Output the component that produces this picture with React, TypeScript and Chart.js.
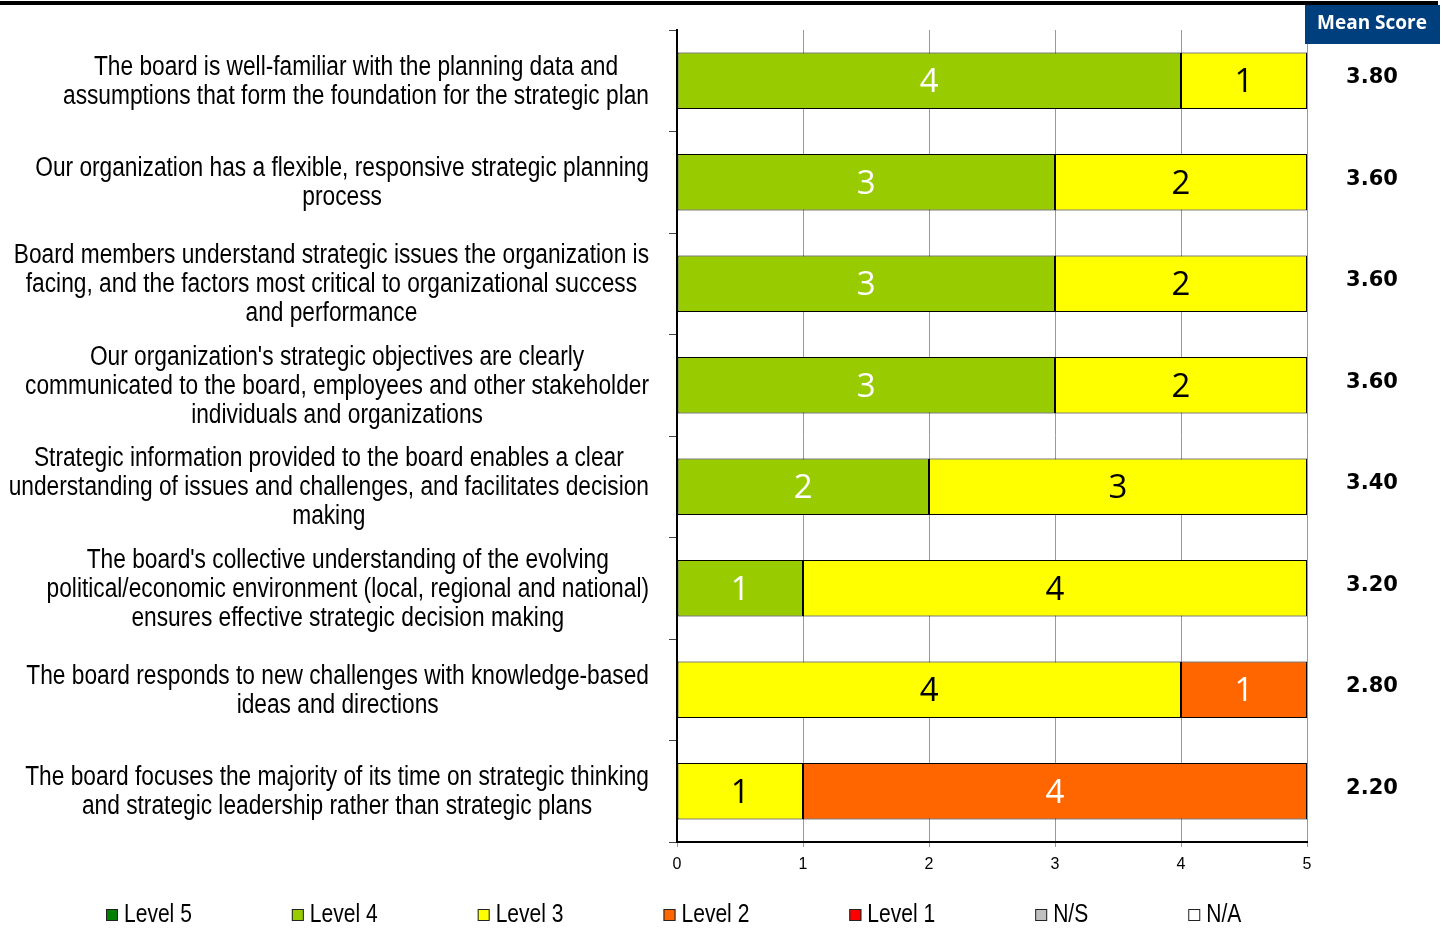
import { useEffect, useRef } from "react";
import { Chart, registerables } from "chart.js";

Chart.register(...registerables);

// ---------- DATA ----------
const categories: string[][] = [
  ["The board is well-familiar with the planning data and", "assumptions that form the foundation for the strategic plan"],
  ["Our organization has a flexible, responsive strategic planning", "process"],
  ["Board members understand strategic issues the organization is", "facing, and the factors most critical to organizational success", "and performance"],
  ["Our organization's strategic objectives are clearly", "communicated to the board, employees and other stakeholder", "individuals and organizations"],
  ["Strategic information provided to the board enables a clear", "understanding of issues and challenges, and facilitates decision", "making"],
  ["The board's collective understanding of the evolving", "political/economic environment (local, regional and national)", "ensures effective strategic decision making"],
  ["The board responds to new challenges with knowledge-based", "ideas and directions"],
  ["The board focuses the majority of its time on strategic thinking", "and strategic leadership rather than strategic plans"],
];

const seriesNames = ["Level 5", "Level 4", "Level 3", "Level 2", "Level 1", "N/S", "N/A"];
const level5 = [0, 0, 0, 0, 0, 0, 0, 0];
const level4 = [4, 3, 3, 3, 2, 1, 0, 0];
const level3 = [1, 2, 2, 2, 3, 4, 4, 1];
const level2 = [0, 0, 0, 0, 0, 0, 1, 4];
const level1 = [0, 0, 0, 0, 0, 0, 0, 0];
const levelNS = [0, 0, 0, 0, 0, 0, 0, 0];
const levelNA = [0, 0, 0, 0, 0, 0, 0, 0];
const meanScores = [3.8, 3.6, 3.6, 3.6, 3.4, 3.2, 2.8, 2.2];
const xTickValues = [0, 1, 2, 3, 4, 5];
const meanHeader = "Mean Score";

// ---------- STYLES ----------
const seriesColors = ["#008000", "#99CC00", "#FFFF00", "#FF6600", "#FF0000", "#C0C0C0", "#FFFFFF"];
const valueLabelColors = ["#FFFFFF", "#FFFFFF", "#000000", "#FFFFFF", "#FFFFFF", "#000000", "#000000"];
const SANS = '"Liberation Sans", Arial, sans-serif';
const LABEL_FONT = `27px ${SANS}`;
const LEGEND_FONT = `25px ${SANS}`;
const VALUE_FONT = `33px "Open Sans", "DejaVu Sans", sans-serif`;
const MEAN_FONT = `bold 21px "DejaVu Sans", sans-serif`;
const HEADER_FONT = `bold 19px "Open Sans", "DejaVu Sans", sans-serif`;
const NARROW_REF_LINE = "assumptions that form the foundation for the strategic plan";
const NARROW_REF_WIDTH = 586;

const W = 1442;
const H = 930;

function narrowText(ctx: CanvasRenderingContext2D, text: string, x: number, y: number, sx: number) {
  ctx.save();
  ctx.translate(x, y);
  ctx.scale(sx, 1);
  ctx.fillText(text, 0, 0);
  ctx.restore();
}

const decorPlugin = {
  id: "decor",
  afterDraw(chart: any) {
    const ctx = chart.ctx as CanvasRenderingContext2D;
    const yScale = chart.scales.y;
    ctx.save();

    // top rule
    ctx.fillStyle = "#000000";
    ctx.fillRect(0, 1, 1438, 4);

    // category labels (right-aligned block, centered lines), condensed
    ctx.font = LABEL_FONT;
    const sx = NARROW_REF_WIDTH / ctx.measureText(NARROW_REF_LINE).width;
    ctx.fillStyle = "#000000";
    ctx.textAlign = "center";
    ctx.textBaseline = "middle";
    const lh = 29;
    categories.forEach((lines, i) => {
      const cy = yScale.getPixelForValue(i);
      const maxW = Math.max(...lines.map((l) => ctx.measureText(l).width)) * sx;
      const cx = 649 - maxW / 2;
      lines.forEach((l, j) => {
        narrowText(ctx, l, cx, cy + 1 + (j - (lines.length - 1) / 2) * lh, sx);
      });
    });

    // value labels in segments
    ctx.font = VALUE_FONT;
    chart.data.datasets.forEach((ds: any, di: number) => {
      const meta = chart.getDatasetMeta(di);
      meta.data.forEach((el: any, i: number) => {
        const v = ds.data[i];
        if (!v) return;
        const cx = (el.x + el.base) / 2;
        ctx.fillStyle = valueLabelColors[di];
        ctx.fillText(String(v), cx, el.y + 2);
      });
    });

    // mean score header
    ctx.fillStyle = "#003F7E";
    ctx.fillRect(1305, 5, 135, 39);
    ctx.fillStyle = "#FFFFFF";
    ctx.font = HEADER_FONT;
    ctx.fillText(meanHeader, 1372, 24);

    // mean values
    ctx.fillStyle = "#000000";
    ctx.font = MEAN_FONT;
    meanScores.forEach((m, i) => {
      const cy = yScale.getPixelForValue(i);
      ctx.fillText(m.toFixed(2), 1372, cy - 3);
    });

    // legend
    ctx.font = LEGEND_FONT;
    ctx.textAlign = "left";
    let x = 106;
    const ly = 915;
    chart.data.datasets.forEach((ds: any) => {
      ctx.fillStyle = ds.backgroundColor;
      ctx.fillRect(x, ly - 6, 12, 12);
      ctx.strokeStyle = "#222222";
      ctx.lineWidth = 1;
      ctx.strokeRect(x + 0.5, ly - 5.5, 11, 11);
      ctx.fillStyle = "#000000";
      narrowText(ctx, ds.label, x + 18, ly, sx);
      const tw = ctx.measureText(ds.label).width * sx;
      x += 18 + tw + 100;
    });

    ctx.restore();
  },
};

export default function App() {
  const ref = useRef<HTMLCanvasElement>(null);

  useEffect(() => {
    if (!ref.current) return;
    const allSeries = [level5, level4, level3, level2, level1, levelNS, levelNA];
    const chart = new Chart(ref.current, {
      type: "bar",
      data: {
        labels: categories.map((c) => c.join(" ")),
        datasets: allSeries.map((d, i) => ({
          label: seriesNames[i],
          data: d,
          backgroundColor: seriesColors[i],
          borderColor: "#000000",
          borderWidth: (c: any) => (c.raw ? 1 : 0),
          borderSkipped: false,
          barPercentage: 0.555,
          categoryPercentage: 1,
        })),
      },
      options: {
        indexAxis: "y",
        responsive: false,
        animation: false,
        devicePixelRatio: 1,
        layout: { padding: { left: 0, right: 135, top: 30, bottom: 0 } },
        plugins: {
          legend: { display: false },
          tooltip: { enabled: false },
        },
        scales: {
          x: {
            stacked: true,
            min: 0,
            max: 5,
            afterBuildTicks: (s: any) => {
              s.ticks = xTickValues.map((v) => ({ value: v }));
            },
            afterFit: (s: any) => {
              s.height = 88;
            },
            grid: {
              color: "#999999",
              lineWidth: 1,
              tickLength: 5,
              drawOnChartArea: true,
            },
            border: { display: true, color: "#000000", width: 2 },
            ticks: {
              color: "#000000",
              font: { family: SANS, size: 16 },
              padding: 8,
              maxRotation: 0,
            },
          },
          y: {
            stacked: true,
            afterFit: (s: any) => {
              s.width = 677;
            },
            grid: {
              offset: true,
              drawOnChartArea: false,
              color: "#444444",
              tickLength: 8,
              lineWidth: 1,
            },
            border: { display: true, color: "#000000", width: 2 },
            ticks: { display: false },
          },
        },
      },
      plugins: [decorPlugin],
    } as any);
    return () => chart.destroy();
  }, []);

  return (
    <div style={{ position: "absolute", left: 0, top: 0, width: W, height: H, background: "#fff" }}>
      <canvas ref={ref} width={W} height={H} style={{ width: W, height: H, display: "block" }} />
    </div>
  );
}
